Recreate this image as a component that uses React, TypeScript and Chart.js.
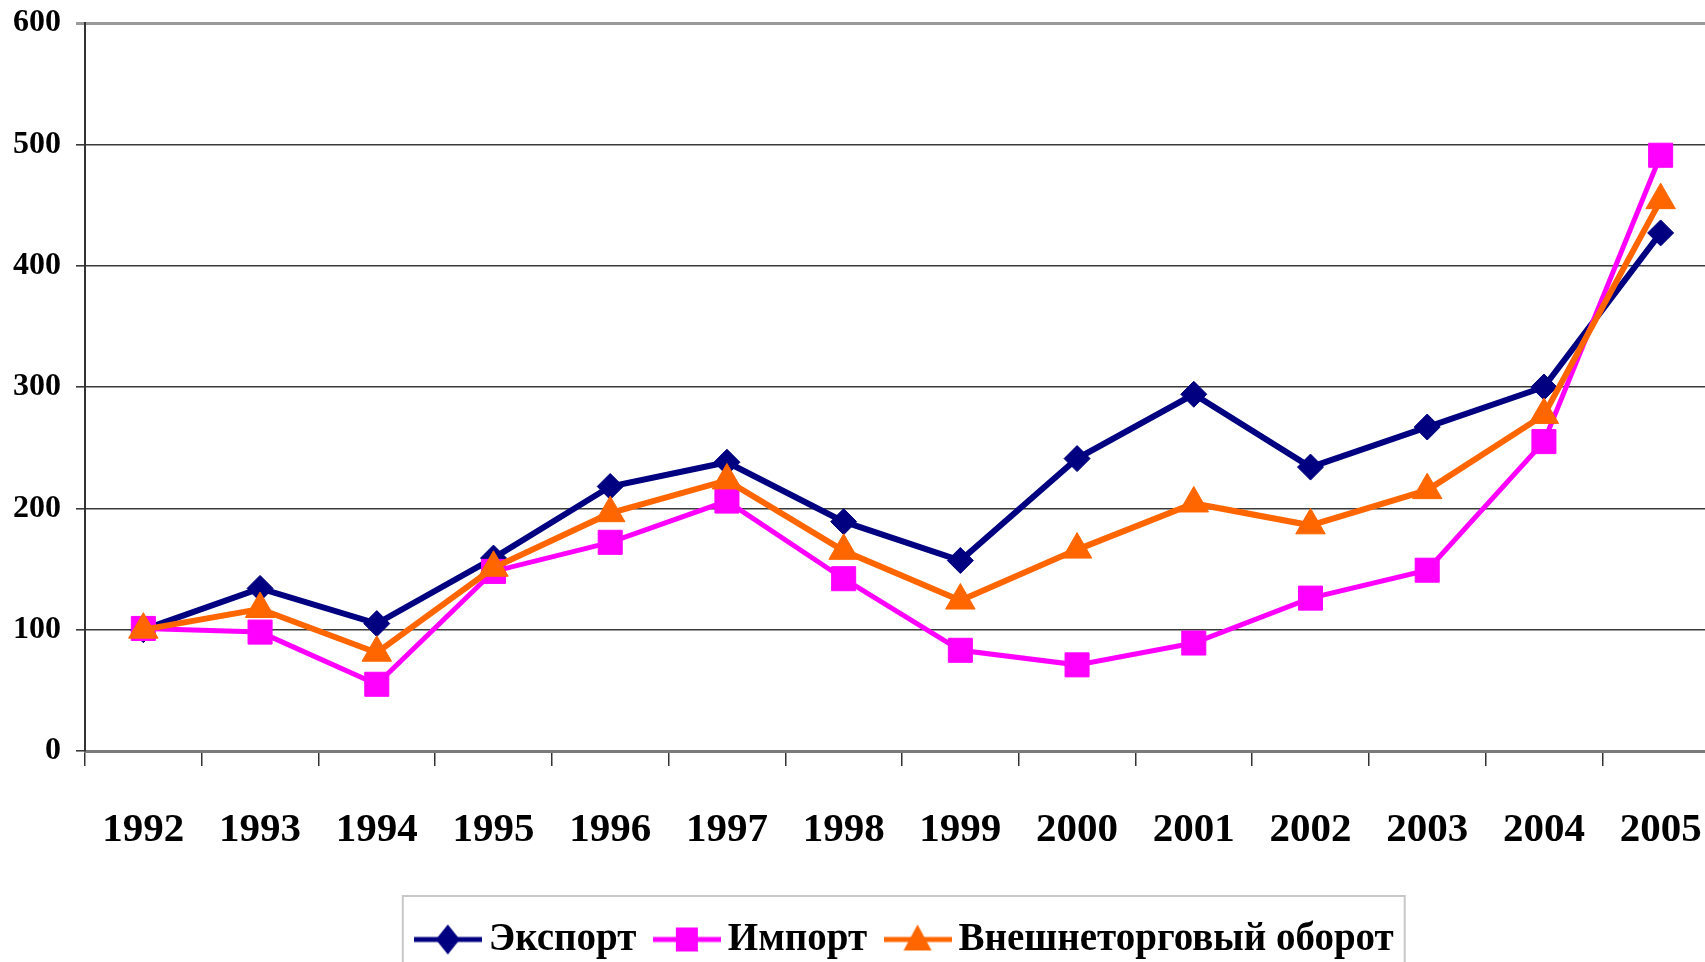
import React, { useEffect, useRef } from "react";
import { Chart, registerables } from "chart.js";

Chart.register(...registerables);

const years = ["1992", "1993", "1994", "1995", "1996", "1997", "1998", "1999", "2000", "2001", "2002", "2003", "2004", "2005"];
const exportValues = [100, 134, 105, 159, 218, 238, 189, 157, 241, 294, 234, 267, 300, 427];
const importValues = [101, 98, 55, 148, 172, 206, 142, 83, 71, 89, 126, 149, 255, 491];
const turnoverValues = [100, 117, 81, 151, 196, 223, 165, 124, 166, 204, 186, 215, 277, 454];
const seriesNames = ["Экспорт", "Импорт", "Внешнеторговый оборот"];
const yTickValues = [0, 100, 200, 300, 400, 500, 600];

const NAVY = "#000080";
const MAGENTA = "#FF00FF";
const ORANGE = "#FF6600";
const FONT = "'Liberation Serif', 'Times New Roman', serif";

function makeIcon(color: string, shape: string): HTMLCanvasElement {
  const c = document.createElement("canvas");
  c.width = 68;
  c.height = 36;
  const ctx = c.getContext("2d")!;
  const cx = 34;
  const cy = 18;
  ctx.strokeStyle = color;
  ctx.fillStyle = color;
  ctx.lineWidth = 5;
  ctx.beginPath();
  ctx.moveTo(0, cy);
  ctx.lineTo(68, cy);
  ctx.stroke();
  ctx.beginPath();
  if (shape === "diamond") {
    ctx.moveTo(cx, cy - 15);
    ctx.lineTo(cx + 12, cy);
    ctx.lineTo(cx, cy + 15);
    ctx.lineTo(cx - 12, cy);
  } else if (shape === "square") {
    ctx.rect(cx - 11, cy - 12, 22, 24);
  } else {
    ctx.moveTo(cx, cy - 15);
    ctx.lineTo(cx + 14, cy + 11);
    ctx.lineTo(cx - 14, cy + 11);
  }
  ctx.closePath();
  ctx.fill();
  return c;
}

export default function App() {
  const canvasRef = useRef<HTMLCanvasElement | null>(null);

  useEffect(() => {
    if (!canvasRef.current) return;
    const icons = [makeIcon(NAVY, "diamond"), makeIcon(MAGENTA, "square"), makeIcon(ORANGE, "triangle")];

    const legendShift = {
      id: "legendShift",
      afterLayout(chart: any) {
        const lg = chart.legend;
        if (!lg) return;
        lg.left += 8;
        lg.right += 8;
      },
    };

    const legendBorder = {
      id: "legendBorder",
      afterDraw(chart: any) {
        const lg = chart.legend;
        if (!lg || !lg.legendHitBoxes || !lg.legendHitBoxes.length) return;
        const boxes = lg.legendHitBoxes;
        const first = boxes[0];
        const last = boxes[boxes.length - 1];
        const ctx = chart.ctx;
        ctx.save();
        ctx.strokeStyle = "#c8c8c8";
        ctx.lineWidth = 2;
        const left = first.left + 21.5 - 34 - 11;
        const right = last.left + last.width + 11;
        const top = lg.top + 5;
        ctx.strokeRect(left, top, right - left, 200);
        ctx.restore();
      },
    };

    const chart = new Chart(canvasRef.current, {
      type: "line",
      data: {
        labels: years,
        datasets: [
          {
            label: seriesNames[0],
            data: exportValues,
            borderColor: NAVY,
            backgroundColor: NAVY,
            borderWidth: 6,
            pointStyle: "rectRot",
            pointRadius: 13,
            pointBorderWidth: 1,
            pointBackgroundColor: NAVY,
            pointBorderColor: NAVY,
            order: 2,
            tension: 0,
          },
          {
            label: seriesNames[1],
            data: importValues,
            borderColor: MAGENTA,
            backgroundColor: MAGENTA,
            borderWidth: 5,
            pointStyle: "rect",
            pointRadius: 17,
            pointBorderWidth: 1,
            pointBackgroundColor: MAGENTA,
            pointBorderColor: MAGENTA,
            order: 1,
            tension: 0,
          },
          {
            label: seriesNames[2],
            data: turnoverValues,
            borderColor: ORANGE,
            backgroundColor: ORANGE,
            borderWidth: 6,
            pointStyle: "triangle",
            pointRadius: 17,
            pointBorderWidth: 1,
            pointBackgroundColor: ORANGE,
            pointBorderColor: ORANGE,
            order: 0,
            tension: 0,
          },
        ],
      },
      options: {
        animation: false,
        responsive: true,
        maintainAspectRatio: false,
        layout: { padding: { top: 23, left: 0, right: 0, bottom: 31 } },
        plugins: {
          tooltip: { enabled: false },
          legend: {
            position: "bottom",
            fullSize: false,
            labels: {
              usePointStyle: true,
              pointStyleWidth: 43,
              padding: 29,
              color: "#000",
              font: { family: FONT, size: 39, weight: "bold" },
              sort: (a: any, b: any) => a.datasetIndex - b.datasetIndex,
              generateLabels: (ch: any) => {
                const base = (Chart.defaults.plugins.legend.labels as any).generateLabels(ch);
                return base.map((l: any) => ({ ...l, pointStyle: icons[l.datasetIndex] }));
              },
            },
          },
        },
        scales: {
          x: {
            type: "category",
            offset: true,
            afterFit: (scale: any) => {
              scale.height = 140;
              scale.paddingLeft = 0;
              scale.paddingRight = 0;
            },
            grid: {
              offset: true,
              drawOnChartArea: false,
              drawTicks: true,
              tickLength: 15,
              color: "#333",
              lineWidth: 1.5,
            },
            border: { display: true, color: "#7a7a7a", width: 3 },
            ticks: {
              autoSkip: false,
              maxRotation: 0,
              padding: 40,
              color: "#000",
              font: { family: FONT, size: 41, weight: "bold" },
            },
          },
          y: {
            min: 0,
            max: 600,
            afterFit: (scale: any) => {
              scale.width = 85;
              scale.paddingTop = 0;
              scale.paddingBottom = 0;
            },
            afterBuildTicks: (scale: any) => {
              scale.ticks = yTickValues.map((v) => ({ value: v }));
            },
            grid: {
              drawTicks: true,
              tickLength: 9,
              color: (ctx: any) => (ctx.tick && ctx.tick.value === 600 ? "#9a9a9a" : "#3a3a3a"),
              lineWidth: (ctx: any) => (ctx.tick && ctx.tick.value === 600 ? 3 : 1.6),
            },
            border: { display: true, color: "#333", width: 2 },
            ticks: {
              padding: 15,
              color: "#000",
              font: { family: FONT, size: 32, weight: "bold" },
            },
          },
        },
      },
      plugins: [legendShift, legendBorder],
    } as any);

    return () => {
      chart.destroy();
    };
  }, []);

  return (
    <div
      style={{
        position: "fixed",
        left: 0,
        top: 0,
        width: 1705,
        height: 962,
        overflow: "hidden",
        background: "#fff",
      }}
    >
      <div style={{ position: "absolute", left: 0, top: 0, width: 1737, height: 1000 }}>
        <canvas ref={canvasRef} />
      </div>
    </div>
  );
}
